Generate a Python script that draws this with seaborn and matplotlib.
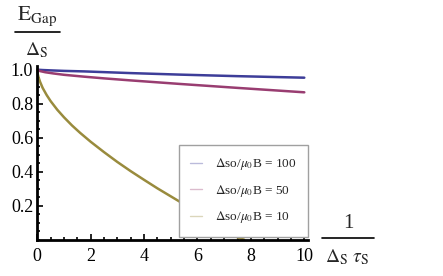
import numpy as np
import pandas as pd
import matplotlib
matplotlib.use("Agg")
import matplotlib.pyplot as plt
from matplotlib.lines import Line2D
from matplotlib.ticker import MultipleLocator
import seaborn as sns

# values
x_100 = [0, 0.2, 0.5, 1.0, 1.75, 3.5, 5.36, 7.5, 10]
e_100 = [1.0, 0.998, 0.996, 0.993, 0.99, 0.98, 0.971, 0.962, 0.953]

x_50 = [0, 0.1, 0.3, 0.6, 1.0, 1.75, 2.5, 3.5, 5.36, 7.5, 10]
e_50 = [1.0, 0.992, 0.985, 0.978, 0.97, 0.959, 0.949, 0.937, 0.916, 0.893, 0.867]

x_10 = [0, 0.02, 0.05, 0.1, 0.2, 0.35, 0.5, 0.75, 1.0, 1.3, 1.6, 2.0, 2.5, 3.0,
        3.5, 4.0, 4.5, 5.0, 5.5, 6.0, 6.5, 7.0, 7.3, 7.55, 7.75]
e_10 = [1.0, 0.972, 0.954, 0.93, 0.893, 0.851, 0.815, 0.764, 0.72, 0.672, 0.629,
        0.576, 0.515, 0.457, 0.403, 0.352, 0.302, 0.255, 0.208, 0.16, 0.11,
        0.06, 0.03, 0.01, 0.0]

labels = [r"$\Delta$so/$\mu_0$B = 100", r"$\Delta$so/$\mu_0$B = 50", r"$\Delta$so/$\mu_0$B = 10"]
colors = [(0.24, 0.24, 0.6), (0.6, 0.24, 0.443), (0.6, 0.547, 0.24)]

sns.set_style("white")
plt.rcParams["font.family"] = ["Liberation Serif", "DejaVu Serif"]
plt.rcParams["mathtext.fontset"] = "stix"

W, H = 443, 276
fig = plt.figure(figsize=(W / 100, H / 100), dpi=100)
ax = fig.add_axes([37.3 / W, 1 - 239.7 / H, 270.2 / W, 173.4 / H])

series = [(x_100, e_100), (x_50, e_50), (x_10, e_10)]
for (xs, ys), c in zip(series, colors):
    df = pd.DataFrame({"x": xs, "y": ys})
    sns.lineplot(data=df, x="x", y="y", ax=ax, color=c, lw=1.8, clip_on=False)

ax.set_xlim(0, 10.12)
ax.set_ylim(0, 1.02)
ax.set_xticks([0, 2, 4, 6, 8, 10])
ax.set_yticks([0.2, 0.4, 0.6, 0.8, 1.0])
ax.set_yticklabels(["0.2", "0.4", "0.6", "0.8", "1.0"])
ax.xaxis.set_minor_locator(MultipleLocator(0.5))
ax.yaxis.set_minor_locator(MultipleLocator(0.05))
ax.tick_params(which="both", bottom=True, left=True, direction="in", colors="black")
ax.tick_params(which="major", length=4, width=1.2, labelsize=13)
ax.tick_params(which="minor", length=2, width=1.2)
ax.tick_params(axis="x", pad=6)
ax.tick_params(axis="y", pad=3)
ax.set_xlabel("")
ax.set_ylabel("")
for s in ["top", "right"]:
    ax.spines[s].set_visible(False)
for s in ["left", "bottom"]:
    ax.spines[s].set_linewidth(2)
    ax.spines[s].set_color("black")

handles = [Line2D([], [], color=c, lw=1, alpha=0.35) for c in colors]
leg = ax.legend(handles, labels, loc="lower right",
                bbox_to_anchor=(308 / W, 1 - 236.7 / H), bbox_transform=fig.transFigure,
                fontsize=9.5, frameon=True, fancybox=False, framealpha=1,
                handlelength=0.9, handletextpad=1.0, labelspacing=0.8,
                borderpad=0.85, borderaxespad=0)
leg.get_frame().set_edgecolor("#a0a0a0")
leg.get_frame().set_linewidth(1.0)

# axis labels drawn as stacked fractions
def fx(px):
    return px / W

def fy(py):
    return 1 - py / H

fig.text(fx(37.5), fy(19.5), r"$\mathrm{E}_{\mathrm{Gap}}$", fontsize=15.5,
         ha="center", va="baseline")
fig.add_artist(Line2D([fx(15), fx(60)], [fy(32), fy(32)], color="black", lw=1.2))
fig.text(fx(37), fy(55.5), r"$\Delta_{\mathrm{S}}$", fontsize=14,
         ha="center", va="baseline")

fig.text(fx(348), fy(228), "1", fontsize=15, ha="center", va="baseline")
fig.add_artist(Line2D([fx(321.5), fx(374)], [fy(238.3), fy(238.3)], color="black", lw=1.2))
fig.text(fx(347), fy(262.5), r"$\Delta_{\mathrm{S}}\ \tau_{\mathrm{S}}$", fontsize=14,
         ha="center", va="baseline")

fig.savefig("out.png", dpi=100)
